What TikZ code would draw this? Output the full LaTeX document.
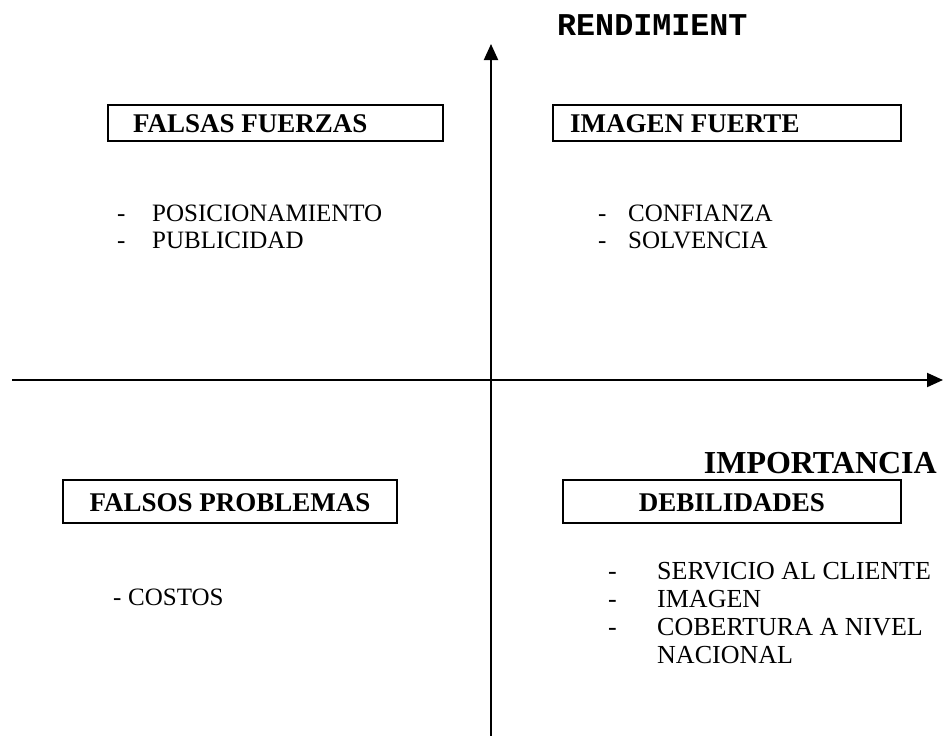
\documentclass[tikz,border=0pt]{standalone}
\usepackage{fontspec}
\setmainfont{Liberation Serif}
\newfontfamily\monob{Liberation Mono}
\usetikzlibrary{arrows.meta}
\tikzset{
  axis/.style={line width=2pt,-{Triangle[length=16pt,width=14pt]}},
  hbox/.style={draw,line width=1.8pt,inner sep=0pt},
  htext/.style={font=\fontsize{27}{30}\selectfont\bfseries,anchor=base west,inner sep=0pt},
  ctext/.style={font=\fontsize{27}{30}\selectfont\bfseries,anchor=base,inner sep=0pt},
  item/.style={font=\fontsize{25}{27}\selectfont,anchor=base west,inner sep=0pt},
  itemb/.style={font=\fontsize{26}{28}\selectfont,anchor=base west,inner sep=0pt},
}
\begin{document}
\begin{tikzpicture}[x=1pt,y=-1pt]
\useasboundingbox (0,0) rectangle (943,736);
% axes
\coordinate (vb) at (491,736);
\coordinate (vt) at (491,44);
\coordinate (hl) at (12,380);
\coordinate (hr) at (943,380);
\draw[axis] (vb) -- (vt);
\draw[axis] (hl) -- (hr);
% axis labels
\node[font=\fontsize{31.7}{34}\monob\bfseries,anchor=base west,inner sep=0pt] (rend) at (557,35) {RENDIMIENT};
\node[font=\fontsize{32}{34}\selectfont\bfseries,anchor=base east,inner sep=0pt] (imp) at (937,473) {IMPORTANCIA};
% boxes
\draw[hbox] (108,105) rectangle (443,141);
\node[htext] (b1) at (133,132) {FALSAS FUERZAS};
\draw[hbox] (553,105) rectangle (901,141);
\node[htext] (b2) at (570,132) {IMAGEN FUERTE};
\draw[hbox] (63,480) rectangle (397,523);
\node[ctext] (b3) at (230,511) {FALSOS PROBLEMAS};
\draw[hbox] (563,480) rectangle (901,523);
\node[ctext] (b4) at (732,511) {DEBILIDADES};
% lists
\node[item] (d11) at (117,221) {-};
\node[item] (t11) at (152,221) {POSICIONAMIENTO};
\node[item] (d12) at (117,248) {-};
\node[item] (t12) at (152,248) {PUBLICIDAD};
\node[item] (d21) at (598,221) {-};
\node[item] (t21) at (628,221) {CONFIANZA};
\node[item] (d22) at (598,248) {-};
\node[item] (t22) at (628,248) {SOLVENCIA};
\node[item] (d31) at (113,605) {-};
\node[item] (t31) at (128,605) {COSTOS};
\node[itemb] (d41) at (608,579) {-};
\node[itemb] (t41) at (657,579) {SERVICIO AL CLIENTE};
\node[itemb] (d42) at (608,607) {-};
\node[itemb] (t42) at (657,607) {IMAGEN};
\node[itemb] (d43) at (608,635) {-};
\node[itemb] (t43) at (657,635) {COBERTURA A NIVEL};
\node[itemb] (t44) at (657,663) {NACIONAL};
\end{tikzpicture}
\end{document}
